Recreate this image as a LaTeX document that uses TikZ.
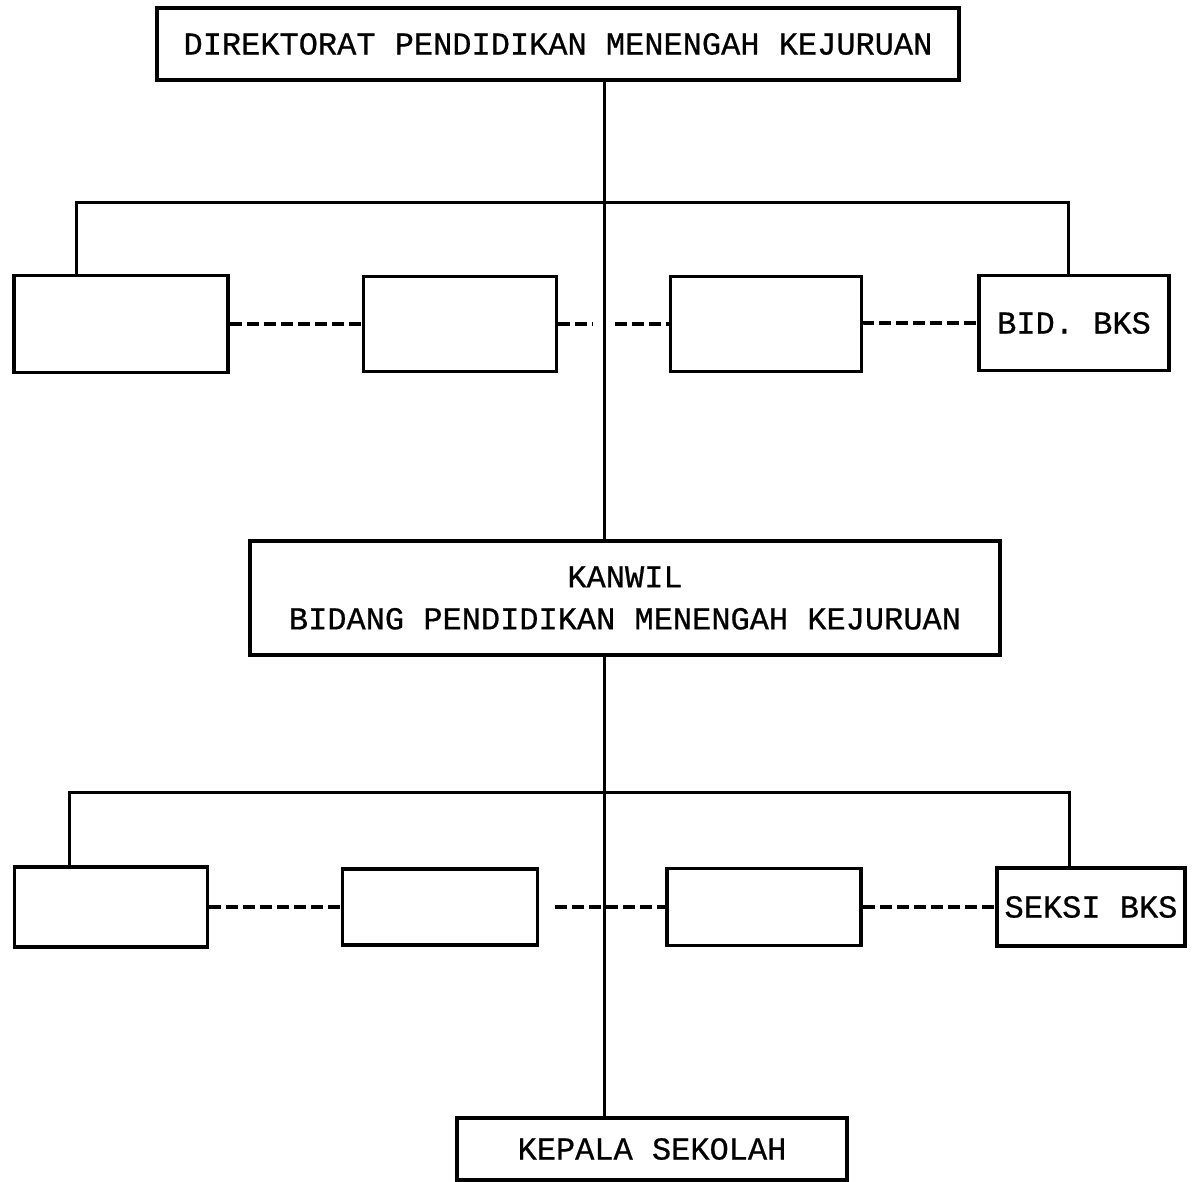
\documentclass[tikz,border=0pt]{standalone}
\usepackage{fontspec}
\setmainfont{Liberation Mono}[BoldFont={Liberation Mono},BoldFeatures={FakeBold=0.6}]

\begin{document}
\begin{tikzpicture}[x=1pt,y=-1pt,
  box/.style={draw,line width=3.5pt,inner sep=0pt,
    font=\fontsize{32}{42}\selectfont\bfseries,align=center},
  link/.style={line width=3pt},
  dashlink/.style={line width=4.5pt,dash pattern=on 12pt off 5pt}]

\useasboundingbox (0,0) rectangle (1194,1181);

%=================================================
% TOP AND MIDDLE OFFICES
%=================================================

\node[box,minimum width=802pt,minimum height=72pt]
(dir) at (558,44)
{DIREKTORAT PENDIDIKAN MENENGAH KEJURUAN};

\node[box,minimum width=750pt,minimum height=114pt]
(kanwil) at (625,598)
{KANWIL\\BIDANG PENDIDIKAN MENENGAH KEJURUAN};

\node[box,minimum width=390pt,minimum height=62pt]
(kep) at (652,1149)
{KEPALA SEKOLAH};

% spine
\coordinate (spine) at (604,0);

\draw[link]
(dir.south -| spine)--(kanwil.north -| spine);

\draw[link]
(kanwil.south -| spine)--(kep.north -| spine);

%=================================================
% FIRST ROW
%=================================================

\node[box,minimum width=214pt,minimum height=97pt]
(a1) at (121,324) {};

\node[box,minimum width=193pt,minimum height=95pt]
(a2) at (460,324) {};

\node[box,minimum width=191pt,minimum height=95pt]
(a3) at (766,324) {};

\node[box,minimum width=190pt,minimum height=95pt]
(a4) at (1074,323)
{BID. BKS};

% bus
\coordinate (busAL) at (76,202);
\coordinate (busAR) at (1068,202);

\draw[link]
(a1.north -| busAL)--(busAL)--(busAR)--(a4.north -| busAR);

% dashed links
\coordinate (gapAL) at (593,324);
\coordinate (gapAR) at (615,324);

\draw[dashlink] (a1.east)--(a2.west);
\draw[dashlink] (a2.east)--(gapAL);
\draw[dashlink] (gapAR)--(a3.west);
\draw[dashlink] (a3.east)--(a4.west -| a3.east)--(a4.west);

%=================================================
% SECOND ROW
%=================================================

\node[box,minimum width=193pt,minimum height=80pt]
(b1) at (111,907) {};

\node[box,minimum width=195pt,minimum height=76pt]
(b2) at (440,907) {};

\node[box,minimum width=194pt,minimum height=77pt]
(b3) at (764,907) {};

\node[box,minimum width=188pt,minimum height=78pt]
(b4) at (1091,907)
{SEKSI BKS};

% bus
\coordinate (busBL) at (69,792);
\coordinate (busBR) at (1069,792);

\draw[link]
(b1.north -| busBL)--(busBL)--(busBR)--(b4.north -| busBR);

% dashed links
\coordinate (gapB) at (555,907);

\draw[dashlink] (b1.east)--(b2.west);
\draw[dashlink] (gapB)--(b3.west);
\draw[dashlink] (b3.east)--(b4.west);

\end{tikzpicture}
\end{document}
